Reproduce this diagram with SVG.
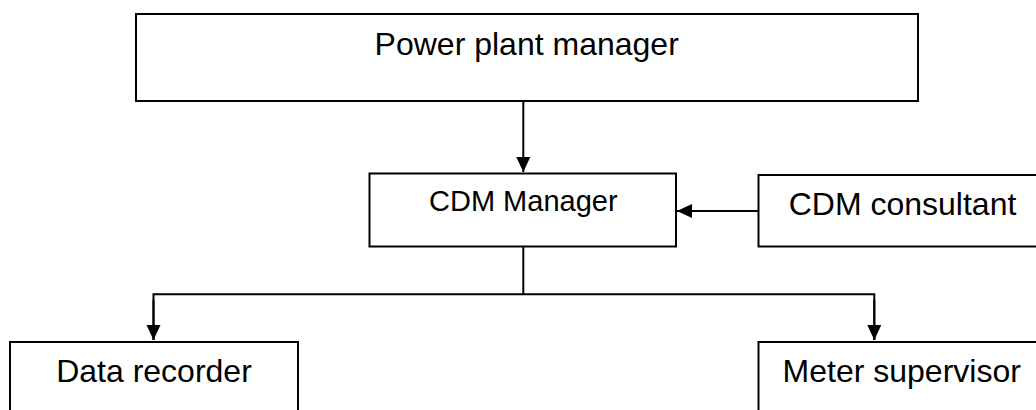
<svg xmlns="http://www.w3.org/2000/svg" width="1036" height="410" viewBox="0 0 1036 410">
  <style>
    .box { fill: #ffffff; stroke: #000000; stroke-width: 2; }
    .label { font-family: "Liberation Sans", Arial, sans-serif; font-size: 32px; fill: #000000; text-anchor: middle; }
    .small { font-size: 29px; }
    .wire { fill: none; stroke: #000000; stroke-width: 2; }
  </style>
  <defs>
    <marker id="arrow" markerUnits="userSpaceOnUse" markerWidth="16" markerHeight="16" viewBox="0 0 16 16" refX="15" refY="8" orient="auto">
      <path d="M0,1 L15,8 L0,15 Z" fill="#000000"/>
    </marker>
  </defs>

  <rect width="1036" height="410" fill="#ffffff"/>

  <!-- connectors -->
  <g id="connectors">
    <line class="wire" x1="523.3" y1="101" x2="523.3" y2="172" marker-end="url(#arrow)"/>
    <line class="wire" x1="758.5" y1="211" x2="677" y2="211" marker-end="url(#arrow)"/>
    <line class="wire" x1="523.3" y1="246.5" x2="523.3" y2="294.3"/>
    <polyline class="wire" points="153.5,340 153.5,294.3 874.3,294.3 874.3,340"/>
    <line class="wire" x1="153.5" y1="300" x2="153.5" y2="340" marker-end="url(#arrow)"/>
    <line class="wire" x1="874.3" y1="300" x2="874.3" y2="340" marker-end="url(#arrow)"/>
  </g>

  <g id="power-plant-manager">
    <rect class="box" x="136" y="14" width="782" height="87"/>
    <text class="label" x="526.7" y="55">Power plant manager</text>
  </g>

  <g id="cdm-manager">
    <rect class="box" x="369.5" y="173.5" width="306.5" height="73"/>
    <text class="label small" x="523.3" y="210.5">CDM Manager</text>
  </g>

  <g id="cdm-consultant">
    <rect class="box" x="758.5" y="175" width="290" height="71.5"/>
    <text class="label" x="902.5" y="215">CDM consultant</text>
  </g>

  <g id="data-recorder">
    <rect class="box" x="10" y="342" width="288" height="80"/>
    <text class="label" x="154" y="381.7">Data recorder</text>
  </g>

  <g id="meter-supervisor">
    <rect class="box" x="758.5" y="342" width="290" height="80"/>
    <text class="label" x="901.7" y="381.7">Meter supervisor</text>
  </g>
</svg>
